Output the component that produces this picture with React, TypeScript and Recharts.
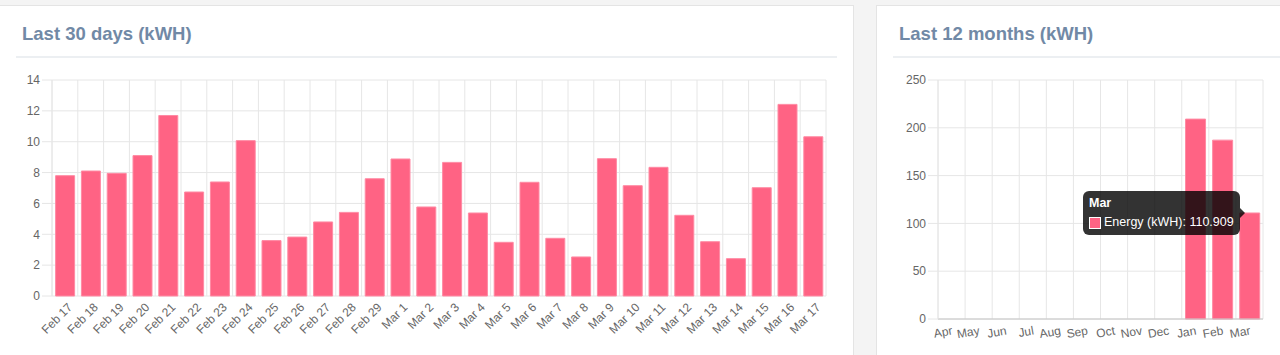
import React from 'react';
import { BarChart, Bar, XAxis, YAxis, CartesianGrid, Tooltip } from 'recharts';

// last 30 days
const dayLabels = [
  'Feb 17', 'Feb 18', 'Feb 19', 'Feb 20', 'Feb 21', 'Feb 22', 'Feb 23', 'Feb 24', 'Feb 25', 'Feb 26',
  'Feb 27', 'Feb 28', 'Feb 29', 'Mar 1', 'Mar 2', 'Mar 3', 'Mar 4', 'Mar 5', 'Mar 6', 'Mar 7',
  'Mar 8', 'Mar 9', 'Mar 10', 'Mar 11', 'Mar 12', 'Mar 13', 'Mar 14', 'Mar 15', 'Mar 16', 'Mar 17',
];
const dayValues = [
  7.8, 8.1, 7.95, 9.1, 11.7, 6.74, 7.39, 10.07, 3.59, 3.82,
  4.8, 5.42, 7.6, 8.88, 5.77, 8.66, 5.38, 3.48, 7.37, 3.74,
  2.53, 8.9, 7.15, 8.34, 5.23, 3.52, 2.42, 7.02, 12.42, 10.32,
];
const dayTicks = [0, 2, 4, 6, 8, 10, 12, 14];

// last 12 months
const monthLabels = ['Apr', 'May', 'Jun', 'Jul', 'Aug', 'Sep', 'Oct', 'Nov', 'Dec', 'Jan', 'Feb', 'Mar'];
const monthValues = [0, 0, 0, 0, 0, 0, 0, 0, 0, 209.1, 187.1, 110.909];
const monthTicks = [0, 50, 100, 150, 200, 250];

const FONT = '"Liberation Sans", Arial, Helvetica, sans-serif';
const PINK = '#ff6384';
const GRID = '#e6e6e6';
const TITLE = '#7189a6';

const dayData = dayLabels.map((name, i) => ({ name, value: dayValues[i] }));
const monthData = monthLabels.map((name, i) => ({ name, value: monthValues[i] }));

const boundaries = (n: number) => Array.from({ length: n + 1 }, (_, i) => i);

// vertical grid lines sit between categories, like chart.js offset grid
const bandEdges = (n: number) => ({ offset }: any) =>
  boundaries(n).map((i) => offset.left + (i * offset.width) / n);

const NoTick = () => <g />;

const DayTick = ({ x, y, payload }: any) => (
  <text
    x={x + 2}
    y={y + 6}
    dy="0.71em"
    textAnchor="end"
    fill="#666"
    fontSize={12}
    fontFamily={FONT}
    transform={`rotate(-45 ${x + 2} ${y + 6})`}
  >
    {payload.value}
  </text>
);

const MonthTick = ({ x, y, payload }: any) => (
  <text
    x={x}
    y={y + 7}
    dy="0.71em"
    textAnchor="end"
    fill="#666"
    fontSize={12}
    fontFamily={FONT}
    transform={`rotate(-10 ${x} ${y + 7})`}
  >
    {payload.value}
  </text>
);

const TipBox = ({ active, payload }: any) => {
  if (!active || !payload || !payload.length) return null;
  const row = payload[0];
  return (
    <div
      style={{
        position: 'relative',
        background: 'rgba(0,0,0,0.8)',
        color: '#fff',
        borderRadius: 6,
        padding: '5px 6px 5px 6px',
        fontFamily: FONT,
        fontSize: 12.5,
        lineHeight: '15px',
        whiteSpace: 'nowrap',
      }}
    >
      <div style={{ fontWeight: 'bold', marginBottom: 4 }}>{row.payload.name}</div>
      <div style={{ display: 'flex', alignItems: 'center' }}>
        <span
          style={{
            display: 'inline-block',
            width: 10,
            height: 10,
            background: PINK,
            border: '1px solid #fff',
            marginRight: 3,
          }}
        />
        Energy (kWH): {row.value}
      </div>
      <div
        style={{
          position: 'absolute',
          right: -5,
          top: 17,
          width: 0,
          height: 0,
          borderTop: '5px solid transparent',
          borderBottom: '5px solid transparent',
          borderLeft: '5px solid rgba(0,0,0,0.8)',
        }}
      />
    </div>
  );
};

const Card = ({ left, width, title }: { left: number; width: number; title: string }) => (
  <>
    <div
      style={{
        position: 'absolute',
        left,
        top: 5,
        width,
        height: 370,
        background: '#fff',
        border: '1px solid #e4e4e4',
        boxSizing: 'border-box',
      }}
    />
    <div
      style={{
        position: 'absolute',
        left: left + 23,
        top: 23,
        fontFamily: FONT,
        fontWeight: 'bold',
        fontSize: 18.5,
        lineHeight: '22px',
        color: TITLE,
        whiteSpace: 'nowrap',
      }}
    >
      {title}
    </div>
    <div
      style={{
        position: 'absolute',
        left: left + 17,
        top: 56,
        width: width - 34,
        height: 2,
        background: '#eceff2',
      }}
    />
  </>
);

export default function App() {
  return (
    <div
      style={{
        position: 'absolute',
        left: 0,
        top: 0,
        width: 1280,
        height: 355,
        background: '#f4f4f4',
        overflow: 'hidden',
      }}
    >
      <Card left={-1} width={855} title="Last 30 days (kWH)" />
      <Card left={876} width={440} title="Last 12 months (kWH)" />

      <div style={{ position: 'absolute', left: 0, top: 70 }}>
        <BarChart
          width={840}
          height={285}
          data={dayData}
          margin={{ top: 10, right: 14, left: 0, bottom: 0 }}
          barCategoryGap="14%"
        >
          <CartesianGrid stroke={GRID} verticalCoordinatesGenerator={bandEdges(dayLabels.length)} />
          <XAxis
            xAxisId="grid"
            type="number"
            domain={[0, dayLabels.length]}
            ticks={boundaries(dayLabels.length)}
            tick={<NoTick />}
            tickSize={10}
            tickLine={{ stroke: GRID }}
            axisLine={{ stroke: '#c4c4c4' }}
            height={0}
            allowDataOverflow
          />
          <XAxis
            xAxisId="cat"
            dataKey="name"
            interval={0}
            height={59}
            tickLine={false}
            axisLine={false}
            tickSize={0}
            tickMargin={0}
            tick={<DayTick />}
          />
          <YAxis
            width={52}
            domain={[0, 14]}
            ticks={dayTicks}
            tickSize={10}
            tickMargin={2}
            tick={{ fill: '#666', fontSize: 12, fontFamily: FONT }}
            tickLine={{ stroke: GRID }}
            axisLine={{ stroke: GRID }}
          />
          <Bar
            xAxisId="cat"
            dataKey="value"
            fill={PINK}
            stroke="#ff8aa3"
            strokeWidth={1}
            isAnimationActive={false}
          />
        </BarChart>
      </div>

      <div style={{ position: 'absolute', left: 880, top: 70 }}>
        <BarChart
          width={395}
          height={285}
          data={monthData}
          margin={{ top: 10, right: 12, left: 0, bottom: 6 }}
          barCategoryGap="14%"
        >
          <CartesianGrid stroke={GRID} verticalCoordinatesGenerator={bandEdges(monthLabels.length)} />
          <XAxis
            xAxisId="cat"
            dataKey="name"
            interval={0}
            height={30}
            tickLine={false}
            axisLine={{ stroke: '#c4c4c4' }}
            tickSize={0}
            tickMargin={0}
            tick={<MonthTick />}
          />
          <YAxis
            width={58}
            domain={[0, 250]}
            ticks={monthTicks}
            tickSize={10}
            tickMargin={2}
            tick={{ fill: '#666', fontSize: 12, fontFamily: FONT }}
            tickLine={{ stroke: GRID }}
            axisLine={{ stroke: GRID }}
          />
          <Tooltip
            content={<TipBox />}
            defaultIndex={11}
            active
            cursor={false}
            position={{ x: 203, y: 121 }}
            isAnimationActive={false}
            wrapperStyle={{ outline: 'none', zIndex: 10 }}
            allowEscapeViewBox={{ x: true, y: true }}
          />
          <Bar
            xAxisId="cat"
            dataKey="value"
            fill={PINK}
            stroke="#ff8aa3"
            strokeWidth={1}
            isAnimationActive={false}
          />
        </BarChart>
      </div>
    </div>
  );
}
